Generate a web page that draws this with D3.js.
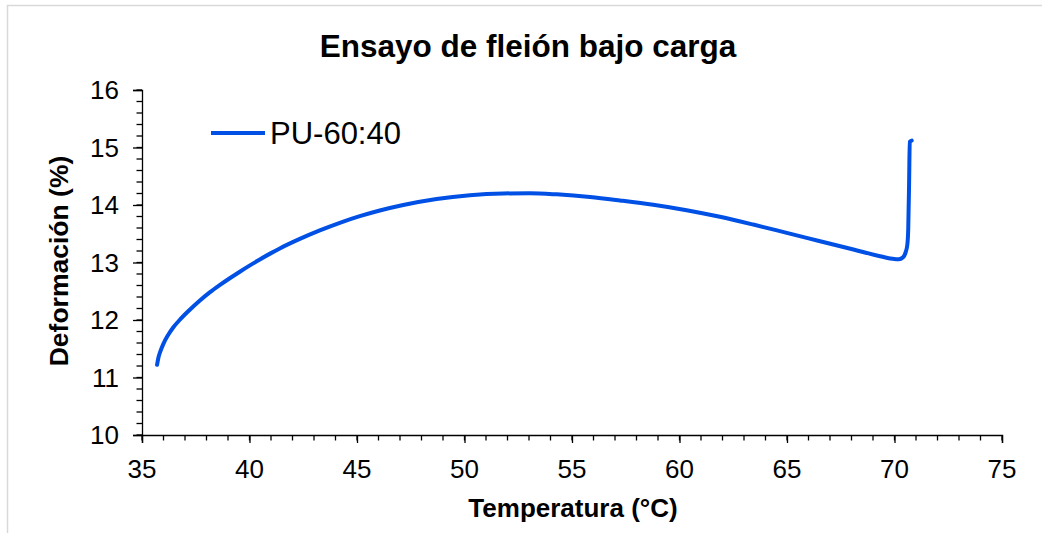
<!DOCTYPE html>
<html>
<head>
<meta charset="utf-8">
<script src="https://cdn.jsdelivr.net/npm/d3@7"></script>
<style>
  html, body { margin: 0; padding: 0; background: #fff; }
  svg { display: block; font-family: "Liberation Sans", Arial, sans-serif; }
</style>
</head>
<body>
<svg id="chart" width="1042" height="533"></svg>
<script>
// Flexural test under load: deformation (%) vs temperature (°C)
const chartTitle = "Ensayo de fleión bajo carga";
const xTitle = "Temperatura (°C)";
const yTitle = "Deformación (%)";
const seriesName = "PU-60:40";

const temperature = [
  35.70, 35.76, 35.85, 36.00, 36.20, 36.45, 36.75, 37.20, 37.68, 38.15,
  38.61, 39.10, 39.55, 40.00, 40.48, 41.00, 41.41, 42.34, 43.27, 44.20,
  45.13, 46.06, 47.15, 48.70, 50.25, 51.80, 53.04, 54.29, 55.84, 57.23,
  58.78, 60.33, 61.88, 63.43, 64.99, 66.54, 68.09, 69.33, 69.90, 70.20,
  70.40, 70.52, 70.60, 70.64, 70.68, 70.71, 70.80
];
const deformation = [
  11.22, 11.34, 11.45, 11.59, 11.73, 11.87, 12.00, 12.17, 12.335, 12.48,
  12.605, 12.73, 12.84, 12.945, 13.053, 13.163, 13.245, 13.41, 13.558, 13.69,
  13.805, 13.904, 14.00, 14.105, 14.17, 14.20, 14.205, 14.185, 14.14, 14.08,
  14.005, 13.91, 13.795, 13.66, 13.515, 13.37, 13.225, 13.11, 13.065, 13.055,
  13.09, 13.18, 13.32, 13.60, 14.40, 15.10, 15.12
];

const xTicks = [35, 40, 45, 50, 55, 60, 65, 70, 75];
const yTicks = [10, 11, 12, 13, 14, 15, 16];
const xMinor = d3.range(35, 75.001, 1);
const yMinor = d3.range(10, 16.001, 0.2);

const lineColor = "#0050e6";

const svg = d3.select("#chart");

// outer frame
svg.append("rect")
  .attr("x", 7.5).attr("y", 5.5)
  .attr("width", 1042).attr("height", 540)
  .attr("fill", "none").attr("stroke", "#d9d9d9").attr("stroke-width", 1.5);

const plot = { left: 142, right: 1002, top: 90, bottom: 435 };

const x = d3.scaleLinear().domain([35, 75]).range([plot.left, plot.right]);
const y = d3.scaleLinear().domain([10, 16]).range([plot.bottom, plot.top]);

function label(g, tx, ty, txt, opts) {
  const t = g.append("text")
    .attr("transform", `translate(${tx},${ty})` + (opts.rotate ? ` rotate(${opts.rotate})` : ""))
    .attr("text-anchor", opts.anchor || "middle")
    .attr("font-size", opts.size)
    .attr("font-weight", opts.weight || "normal")
    .attr("fill", "#000")
    .text(txt);
  if (opts.dy) t.attr("dy", opts.dy);
  return t;
}

// minor ticks
const axisG = svg.append("g").attr("stroke", "#000").attr("stroke-width", 1.3);
axisG.selectAll("line.xm").data(xMinor).join("line")
  .attr("x1", d => x(d)).attr("x2", d => x(d))
  .attr("y1", plot.bottom).attr("y2", plot.bottom + 5.5);
axisG.selectAll("line.ym").data(yMinor).join("line")
  .attr("y1", d => y(d)).attr("y2", d => y(d))
  .attr("x1", plot.left).attr("x2", plot.left - 5.5);

// major axes through d3-axis
const xAxis = svg.append("g")
  .attr("transform", `translate(0,${plot.bottom})`)
  .call(d3.axisBottom(x).tickValues(xTicks).tickSize(8).tickPadding(0).tickFormat(d3.format("d")));
const yAxis = svg.append("g")
  .attr("transform", `translate(${plot.left},0)`)
  .call(d3.axisLeft(y).tickValues(yTicks).tickSize(9).tickPadding(0).tickFormat(d3.format("d")));

[xAxis, yAxis].forEach(a => {
  a.select(".domain").attr("stroke", "#000").attr("stroke-width", 1.3);
  a.selectAll(".tick line").attr("stroke", "#000").attr("stroke-width", 1.3);
  a.selectAll(".tick text").remove();
});

// tick labels
xTicks.forEach(v => label(svg, x(v), 478, v, { size: 26 }));
yTicks.forEach(v => label(svg, 119, y(v), v, { size: 26, anchor: "end", dy: "0.36em" }));

// titles
label(svg, 528, 57, chartTitle, { size: 31.5, weight: "bold" });
label(svg, 573, 517, xTitle, { size: 26, weight: "bold" });
label(svg, 68, 261, yTitle, { size: 26.5, weight: "bold", rotate: -90 });

// data line
const pts = temperature.map((t, i) => [t, deformation[i]]);
svg.append("path")
  .datum(pts)
  .attr("fill", "none")
  .attr("stroke", lineColor)
  .attr("stroke-width", 4)
  .attr("stroke-linecap", "round")
  .attr("stroke-linejoin", "round")
  .attr("d", d3.line().x(d => x(d[0])).y(d => y(d[1])).curve(d3.curveMonotoneX));

// legend
svg.append("line")
  .attr("x1", 211).attr("x2", 265).attr("y1", 133).attr("y2", 133)
  .attr("stroke", lineColor).attr("stroke-width", 4);
label(svg, 270, 133, seriesName, { size: 31, anchor: "start", dy: "0.35em" });
</script>
</body>
</html>
